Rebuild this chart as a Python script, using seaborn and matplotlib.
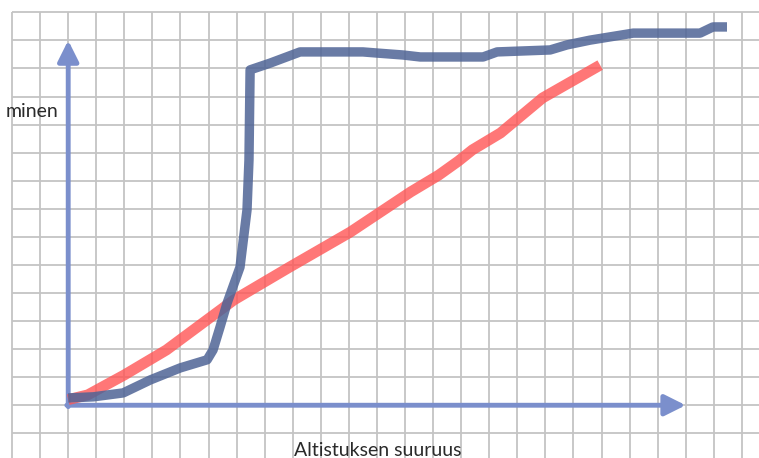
import numpy as np
import pandas as pd
import seaborn as sns
import matplotlib.pyplot as plt

# Curves, in grid squares from the origin
red_x = [0.0, 0.7, 2.0, 3.5, 5.9, 7.9, 10.05, 12.2, 13.2, 13.9, 14.4, 15.4, 16.9, 18.95]
red_y = [0.2, 0.37, 1.08, 1.97, 3.75, 4.93, 6.17, 7.6, 8.2, 8.7, 9.1, 9.7, 10.95, 12.12]

blue_x = [0.0, 0.9, 1.96, 2.92, 3.99, 4.95, 5.16, 5.41, 5.66, 6.12, 6.37, 6.44, 6.48,
          7.19, 8.26, 10.5, 11.0, 11.93, 12.54, 14.78, 15.28, 17.17, 17.77, 18.59,
          20.13, 22.51, 22.97, 23.47]
blue_y = [0.26, 0.30, 0.44, 0.90, 1.33, 1.62, 1.97, 2.79, 3.64, 4.92, 6.96, 8.74, 11.95,
          12.19, 12.59, 12.59, 12.55, 12.48, 12.41, 12.41, 12.59, 12.66, 12.84, 13.01,
          13.26, 13.26, 13.48, 13.48]

x_label = "Altistuksen suuruus"
y_label = "minen"

sns.set_theme(style="white")
plt.rcParams['font.family'] = ['Lato', 'DejaVu Sans']

fig = plt.figure(figsize=(7.59, 4.58), dpi=100)
ax = fig.add_axes([0, 0, 1, 1])
ax.set_xlim(-2.43, 24.61)
ax.set_ylim(-1.88, 14.44)

# squared paper background
grid_col = "#c4c4c4"
ax.vlines(np.arange(-2, 25), -1.88, 14, color=grid_col, lw=1.3, zorder=0)
ax.hlines(np.arange(-1, 15), -2, 24.61, color=grid_col, lw=1.3, zorder=0)

red = pd.DataFrame({"x": red_x, "y": red_y})
blue = pd.DataFrame({"x": blue_x, "y": blue_y})
sns.lineplot(data=red, x="x", y="y", sort=False, estimator=None, ax=ax,
             color="#ff5555", alpha=0.8, lw=7.8, solid_capstyle="butt",
             solid_joinstyle="round", zorder=3)
sns.lineplot(data=blue, x="x", y="y", sort=False, estimator=None, ax=ax,
             color="#4f6496", alpha=0.85, lw=6.8, solid_capstyle="butt",
             solid_joinstyle="round", zorder=4)
ax.axis("off")

# axis arrows
axis_col = "#7b8fcc"
arrow = dict(arrowstyle="-|>,head_length=0.9,head_width=0.45", color=axis_col,
             lw=3.5, shrinkA=0, shrinkB=0, mutation_scale=14)
ax.annotate("", xy=(0, 13), xytext=(0, -0.05), arrowprops=arrow, zorder=2)
ax.annotate("", xy=(22, 0), xytext=(-0.05, 0), arrowprops=arrow, zorder=2)

ax.text(-0.36, 10.27, y_label, ha="right", va="baseline", fontsize=14, color="#2a2a2a")
ax.text(8.04, -1.81, x_label, ha="left", va="baseline", fontsize=14, color="#2a2a2a")

fig.savefig("out.png", dpi=100)
